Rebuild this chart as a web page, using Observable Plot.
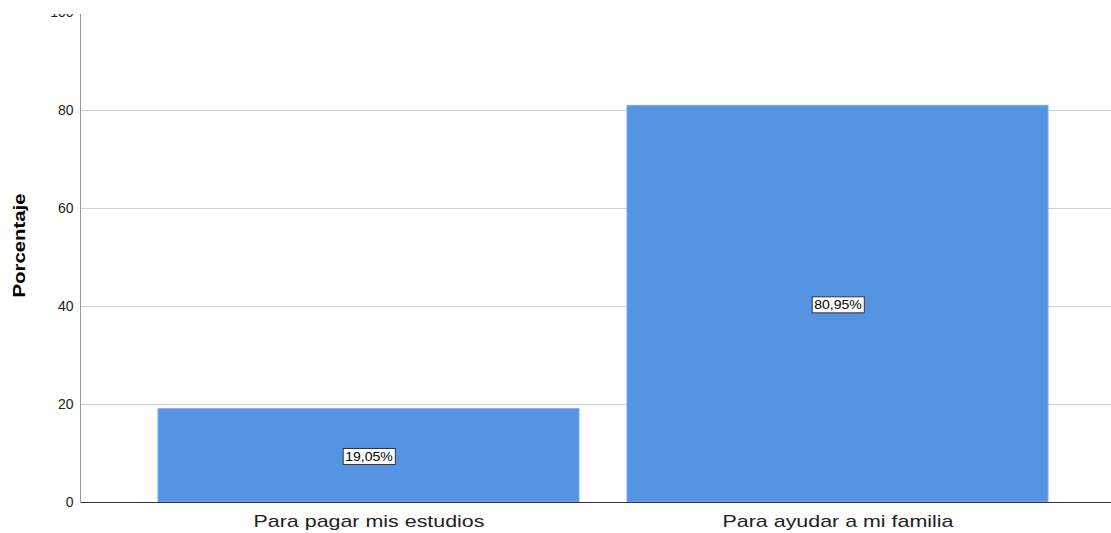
<!DOCTYPE html>
<html><head><meta charset="utf-8">
<script src="https://cdn.jsdelivr.net/npm/d3@7"></script>
<script src="https://cdn.jsdelivr.net/npm/@observablehq/plot@0.6"></script>
<style>
body{margin:0;background:#fff;}
#chart svg{display:block; clip-path: inset(14px 0 0 0);}
</style></head><body><div id="chart"></div>
<script>
const categories = ["Para pagar mis estudios", "Para ayudar a mi familia"];
const percentages = [19.05, 80.95];
const valueLabels = ["19,05%", "80,95%"];
const yTicks = [0, 20, 40, 60, 80, 100];
const data = categories.map((c, i) => ({category: c, value: percentages[i], label: valueLabels[i]}));

const marks = [
  Plot.gridY(yTicks, {stroke: "#cfcfcf", strokeOpacity: 1, strokeWidth: 1.2}),
  Plot.barY(data, {x: "category", y: "value", fill: "#5593e3", stroke: "#7eaaec", strokeWidth: 1}),
  Plot.ruleY([0], {stroke: "#333"}),
  Plot.axisY(yTicks, {tickSize: 0, tickPadding: 7, fontSize: 14, fill: "#222", label: "Porcentaje", labelAnchor: "center", labelOffset: 68, labelArrow: "none"}),
  Plot.axisX({tickSize: 0, tickPadding: 12, fontSize: 17, fill: "#222", label: null}),
  Plot.text(data, {x: "category", y: d => d.value / 2, dy: 1, text: "label", fontSize: 13, fill: "#000", ariaLabel: "value label"})
];
try { marks.splice(3, 0, Plot.frame({anchor: "left", stroke: "#9a9a9a"})); } catch (e) {}

const chart = Plot.plot({
  width: 1111, height: 533,
  marginLeft: 80, marginRight: 0, marginTop: 12, marginBottom: 31,
  style: {fontFamily: "'Liberation Sans', Arial, sans-serif", background: "#fff", color: "#222"},
  x: {domain: categories, paddingInner: 0.102, paddingOuter: 0.148, align: 0.554, label: null},
  y: {domain: [0, 100], label: "Porcentaje"},
  marks
});
document.getElementById("chart").appendChild(chart);

const svg = d3.select(chart);
// y-axis title styling
svg.selectAll('g[aria-label="y-axis label"] text').each(function() {
  const t = d3.select(this).attr("font-size", 17).attr("font-weight", "bold").attr("fill", "#000");
  t.attr("textLength", 104).attr("lengthAdjust", "spacingAndGlyphs").attr("dx", 12);
});
// stretched category labels
svg.selectAll('g[aria-label="x-axis tick label"] text').each(function() {
  const w = this.getComputedTextLength();
  d3.select(this).attr("textLength", w * 1.26).attr("lengthAdjust", "spacingAndGlyphs");
});
// boxed value labels
let vtexts = svg.selectAll('g[aria-label="value label"] text');
if (vtexts.empty()) vtexts = svg.selectAll('g[aria-label="text"] text');
vtexts.each(function() {
  const w = this.getComputedTextLength();
  d3.select(this).attr("textLength", w * 1.08).attr("lengthAdjust", "spacingAndGlyphs");
  const b = this.getBBox();
  const cy = b.y + b.height / 2;
  const parent = this.parentNode;
  const rect = document.createElementNS("http://www.w3.org/2000/svg", "rect");
  rect.setAttribute("x", b.x - 2);
  rect.setAttribute("y", cy - 8);
  rect.setAttribute("width", b.width + 4);
  rect.setAttribute("height", 16);
  rect.setAttribute("fill", "#fff");
  rect.setAttribute("stroke", "#333");
  rect.setAttribute("stroke-width", 1);
  const tr = this.getAttribute("transform");
  if (tr) rect.setAttribute("transform", tr);
  parent.insertBefore(rect, this);
});
</script></body></html>
